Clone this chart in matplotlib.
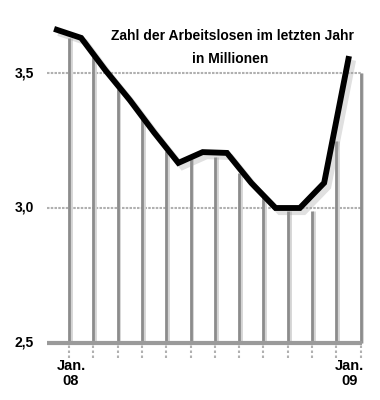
import numpy as np
import matplotlib
matplotlib.use('Agg')
import matplotlib.pyplot as plt
import matplotlib.patheffects as pe

plt.rcParams['font.family'] = ['Liberation Sans', 'DejaVu Sans']

# Months Jan. 08 .. Jan. 09 (stem positions)
months = np.arange(13)
# top of each gray stem (millions)
stem_tops = [3.63, 3.56, 3.44, 3.33, 3.21, 3.18, 3.19, 3.13, 3.05, 2.99, 2.99, 3.25, 3.50]
# black curve, drawn half a month left of the stems
line_x = months - 0.5
line_values = [3.66, 3.63, 3.51, 3.40, 3.28, 3.167, 3.207, 3.204, 3.093, 3.0, 3.0, 3.093, 3.552]

y_ticks = [2.5, 3.0, 3.5]
y_labels = ['2,5', '3,0', '3,5']
x_label_pos = [0.08, 11.55]
x_labels = ['Jan.\n08', 'Jan.\n09']

fig = plt.figure(figsize=(3.8, 4.0), dpi=100)
ax = fig.add_axes([0, 0, 1, 1])
ax.set_xlim(-69 / 24.3, (380 - 69) / 24.3)
ax.set_ylim(3.5 - 327 / 270, 3.5 + 73 / 270)
ax.axis('off')

x_left = -22 / 24.3

# dotted gridlines
ax.hlines([3.0, 3.5], x_left, 12, colors='#b0b0b0', lw=1.5, linestyles=(0, (1.2, 0.6)), zorder=1)

# small dotted ticks below the baseline
ax.vlines(months, 2.5 - 15 / 270, 2.5, colors='#b0b0b0', lw=1.5, linestyles=(0, (1.2, 1.2)), zorder=1)

# stems with a light shadow on the right
ax.vlines(months, 2.5, stem_tops, colors='#8c8c8c', lw=2.0, zorder=2,
          path_effects=[pe.SimpleLineShadow(offset=(1.3, 0), shadow_color='#d4d4d4', alpha=1.0),
                        pe.Normal()])

# baseline
ax.hlines(2.5, x_left, 12.05, colors='#9a9a9a', lw=3, zorder=3)

# main curve with soft shadow
ax.plot(line_x, line_values, color='black', lw=4.2, solid_joinstyle='miter', zorder=5,
        path_effects=[pe.SimpleLineShadow(offset=(3, -3), shadow_color='#999999', alpha=0.3),
                      pe.Normal()])

for v, lab in zip(y_ticks, y_labels):
    ax.text(-35 / 24.3, v, lab, ha='right', va='center', fontsize=10, fontweight='bold')

for xp, lab in zip(x_label_pos, x_labels):
    ax.text(xp, 2.5 - 16 / 270, lab, ha='center', va='top', fontsize=10.5, fontweight='bold',
            linespacing=1.1)

ax.text((232 - 69) / 24.3, 3.5 + 37 / 270, 'Zahl der Arbeitslosen im letzten Jahr',
        ha='center', va='center', fontsize=10, fontweight='bold')
ax.text((230 - 69) / 24.3, 3.5 + 14 / 270, 'in Millionen',
        ha='center', va='center', fontsize=10, fontweight='bold')

fig.savefig('out.png', dpi=100)
